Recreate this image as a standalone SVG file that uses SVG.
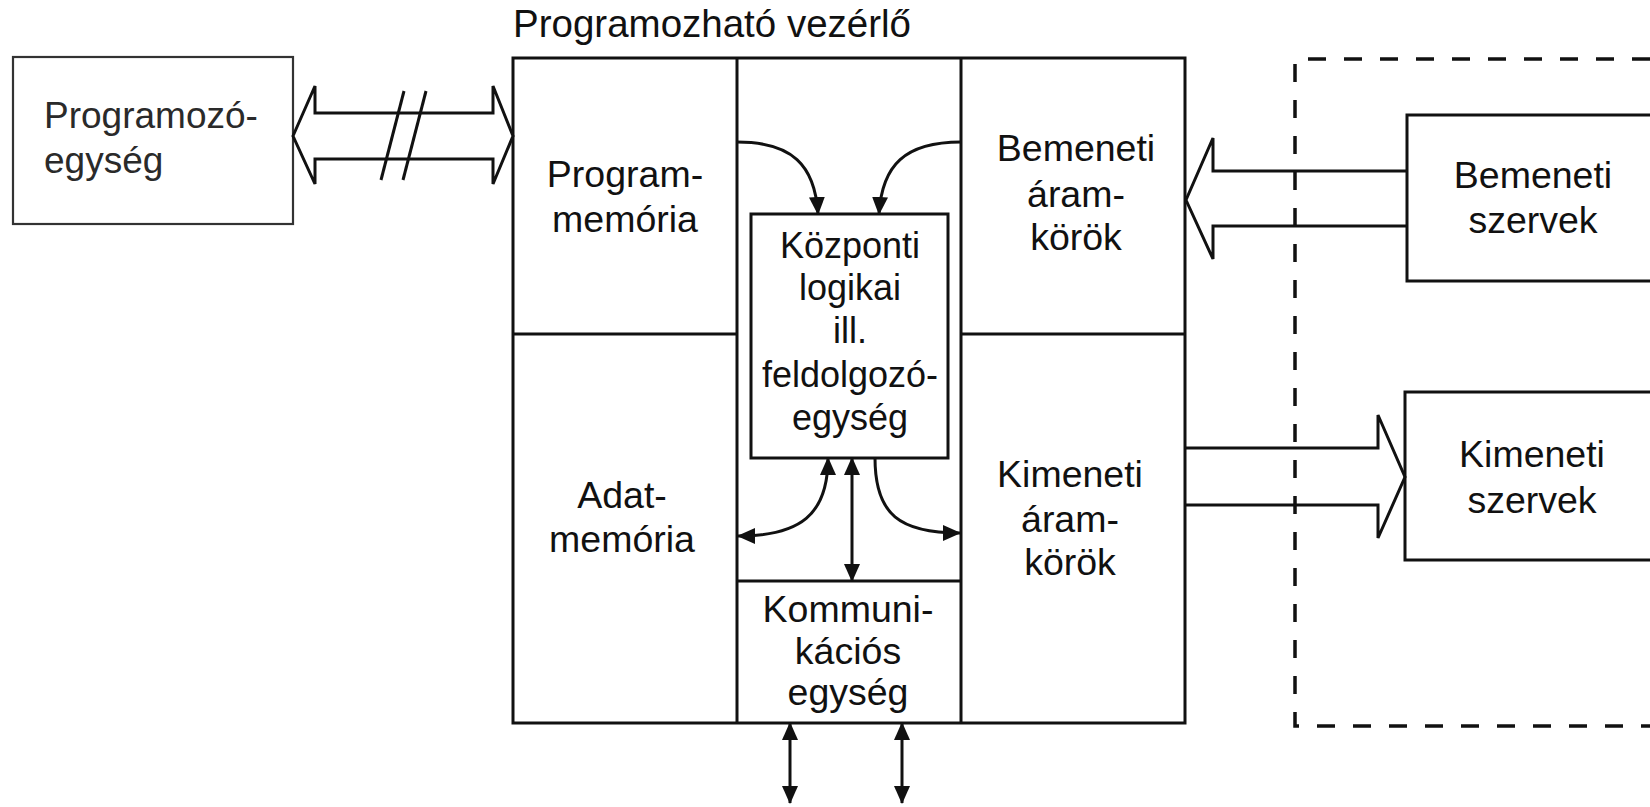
<svg xmlns="http://www.w3.org/2000/svg" width="1650" height="807" viewBox="0 0 1650 807">
  <style>
    .bg { fill: #ffffff; }
    .box { fill: none; stroke: #111; stroke-width: 3; }
    .thin { fill: none; stroke: #333; stroke-width: 2.2; }
    .line { fill: none; stroke: #111; stroke-width: 3; }
    .bus { fill: #ffffff; stroke: #111; stroke-width: 3; stroke-linejoin: miter; }
    .bus-open { fill: none; stroke: #111; stroke-width: 3; stroke-linejoin: miter; }
    .dash { fill: none; stroke: #111; stroke-width: 3.5; stroke-dasharray: 18 18; }
    .lbl { font-family: "Liberation Sans", Arial, Helvetica, sans-serif; font-size: 37.5px; fill: #111; text-anchor: middle; }
    .lbl-c { font-family: "Liberation Sans", Arial, Helvetica, sans-serif; font-size: 36px; fill: #111; text-anchor: middle; }
    .lbl-l { font-family: "Liberation Sans", Arial, Helvetica, sans-serif; font-size: 37px; fill: #2a2a2a; }
  </style>
  <defs>
    <marker id="tri" viewBox="0 0 18 16" refX="17" refY="8" markerWidth="18" markerHeight="16" markerUnits="userSpaceOnUse" orient="auto-start-reverse">
      <path d="M0,0 L18,8 L0,16 Z" fill="#111"/>
    </marker>
  </defs>

  <rect class="bg" x="0" y="0" width="1650" height="807"/>

  <!-- title of the controller block -->
  <text id="title" class="lbl-l" x="513" y="37" style="fill:#111;font-size:38.5px">Programozható vezérlő</text>

  <!-- programming unit -->
  <g id="programozo">
    <rect class="thin" x="13" y="57" width="280" height="167"/>
    <text class="lbl-l" x="44" y="128">Programozó-</text>
    <text class="lbl-l" x="44" y="173">egység</text>
  </g>

  <!-- controller frame and partitions -->
  <g id="vezerlo">
    <rect class="box" x="513" y="58" width="672" height="665"/>
    <line class="line" x1="737" y1="58" x2="737" y2="723"/>
    <line class="line" x1="961" y1="58" x2="961" y2="723"/>
    <line class="line" x1="513" y1="334" x2="737" y2="334"/>
    <line class="line" x1="961" y1="334" x2="1185" y2="334"/>
    <line class="line" x1="737" y1="581" x2="961" y2="581"/>
  </g>

  <g id="programmemoria">
    <text class="lbl" x="625" y="187">Program-</text>
    <text class="lbl" x="625" y="232">memória</text>
  </g>

  <g id="adatmemoria">
    <text class="lbl" x="622" y="508">Adat-</text>
    <text class="lbl" x="622" y="552">memória</text>
  </g>

  <g id="kozponti">
    <rect class="box" x="751" y="214" width="197" height="244"/>
    <text class="lbl-c" x="850" y="258">Központi</text>
    <text class="lbl-c" x="850" y="300">logikai</text>
    <text class="lbl-c" x="850" y="343">ill.</text>
    <text class="lbl-c" x="850" y="387">feldolgozó-</text>
    <text class="lbl-c" x="850" y="430">egység</text>
  </g>

  <g id="kommunikacios">
    <text class="lbl" x="848" y="622">Kommuni-</text>
    <text class="lbl" x="848" y="664">kációs</text>
    <text class="lbl" x="848" y="705">egység</text>
  </g>

  <g id="bemeneti-aramkorok">
    <text class="lbl" x="1076" y="161">Bemeneti</text>
    <text class="lbl" x="1076" y="207">áram-</text>
    <text class="lbl" x="1076" y="250">körök</text>
  </g>

  <g id="kimeneti-aramkorok">
    <text class="lbl" x="1070" y="487">Kimeneti</text>
    <text class="lbl" x="1070" y="532">áram-</text>
    <text class="lbl" x="1070" y="575">körök</text>
  </g>

  <!-- field devices, enclosed by the dashed frame -->
  <g id="terep">
    <path class="dash" d="M1650,59 L1295,59 L1295,726 L1650,726"/>
  </g>

  <g id="bemeneti-szervek">
    <rect class="box" x="1407" y="115" width="260" height="166"/>
    <text class="lbl" x="1533" y="188">Bemeneti</text>
    <text class="lbl" x="1533" y="233">szervek</text>
  </g>

  <g id="kimeneti-szervek">
    <rect class="box" x="1405" y="392" width="260" height="168"/>
    <text class="lbl" x="1532" y="467">Kimeneti</text>
    <text class="lbl" x="1532" y="513">szervek</text>
  </g>

  <!-- connectors -->
  <g id="connectors">
    <!-- bidirectional programming bus with break marks -->
    <path class="bus" d="M293,136 L315,86 L315,113 L493,113 L493,86 L513,136 L493,184 L493,159 L315,159 L315,184 Z"/>
    <line class="line" x1="404" y1="91" x2="381" y2="180"/>
    <line class="line" x1="426" y1="91" x2="403" y2="180"/>

    <!-- input bus -->
    <path class="bus-open" d="M1407,171 L1213,171 L1213,138 L1186,200 L1213,259 L1213,226 L1407,226"/>
    <!-- output bus -->
    <path class="bus-open" d="M1185,448 L1378,448 L1378,415 L1405,477 L1378,538 L1378,505 L1185,505"/>

    <!-- internal data paths -->
    <path class="line" d="M737,142 C792,142 815,165 818,214" marker-end="url(#tri)"/>
    <path class="line" d="M961,142 C905,142 882,165 879,214" marker-end="url(#tri)"/>
    <path class="line" d="M828,458 C828,515 800,536 738,536" marker-start="url(#tri)" marker-end="url(#tri)"/>
    <path class="line" d="M852,458 L852,581" marker-start="url(#tri)" marker-end="url(#tri)"/>
    <path class="line" d="M875,458 C875,515 900,533 960,533" marker-end="url(#tri)"/>

    <!-- external communication lines -->
    <path class="line" d="M790,723 L790,803" marker-start="url(#tri)" marker-end="url(#tri)"/>
    <path class="line" d="M902,723 L902,803" marker-start="url(#tri)" marker-end="url(#tri)"/>
  </g>
</svg>
